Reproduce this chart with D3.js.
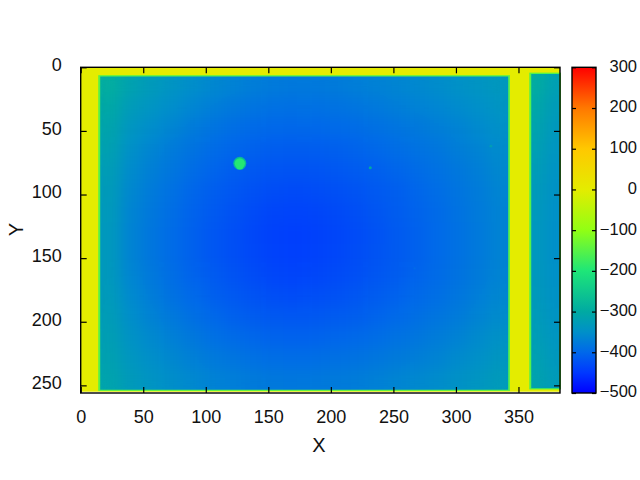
<!DOCTYPE html>
<html><head><meta charset="utf-8">
<script src="https://cdn.jsdelivr.net/npm/d3@7/dist/d3.min.js"></script>
<style>html,body{margin:0;padding:0;background:#fff}svg{display:block}text{font-family:"Liberation Sans",Arial,sans-serif;fill:#111}</style>
</head><body><svg id="c" width="640" height="480"></svg>
<script>
const xTicks=[0,50,100,150,200,250,300,350];
const yTicks=[0,50,100,150,200,250];
const cbTicks=[300,200,100,0,-100,-200,-300,-400,-500];
const paletteValues=[-500,-450,-400,-350,-300,-200,-100,0,100,200,300];
const paletteColors=["#0000ff","#0038ff","#0068ea","#0090c8","#00aaa2","#1ee678","#91ff14","#e4ec00","#ffc800","#ff7800","#ff0000"];
const background=0, rimValue=-150;
const mainExtent=[14,343.2,6.2,254.4];
const sideExtent=[358.6,384,4.2,253.2];
const imageBottom=255;
const mainField=[
[-295,-318,-331,-343,-353,-361,-368,-374,-378,-380,-379,-377,-373,-369,-365,-360,-355,-349,-343,-336],
[-305,-330,-343,-354,-364,-373,-380,-385,-389,-390,-389,-387,-384,-379,-374,-369,-364,-358,-351,-343],
[-313,-341,-354,-365,-376,-385,-392,-397,-400,-401,-400,-398,-395,-390,-385,-380,-374,-367,-359,-350],
[-320,-350,-364,-376,-386,-395,-402,-407,-411,-412,-411,-409,-405,-400,-394,-388,-382,-374,-366,-356],
[-326,-356,-371,-383,-394,-403,-411,-417,-421,-422,-421,-418,-414,-409,-403,-396,-389,-381,-372,-361],
[-330,-361,-376,-389,-401,-410,-418,-424,-429,-431,-429,-426,-422,-416,-410,-402,-394,-385,-376,-365],
[-333,-365,-380,-393,-405,-415,-423,-430,-436,-438,-436,-432,-427,-420,-413,-405,-397,-388,-378,-367],
[-335,-366,-382,-395,-407,-418,-426,-434,-441,-443,-441,-436,-430,-423,-415,-407,-398,-389,-379,-368],
[-335,-366,-382,-395,-407,-418,-426,-433,-440,-442,-440,-435,-429,-422,-415,-407,-398,-389,-379,-368],
[-334,-364,-379,-392,-404,-414,-422,-429,-435,-437,-435,-431,-426,-419,-412,-404,-396,-387,-377,-366],
[-331,-359,-374,-387,-398,-408,-416,-422,-427,-429,-427,-424,-419,-413,-406,-399,-391,-383,-373,-362],
[-327,-353,-367,-379,-390,-399,-407,-413,-417,-418,-417,-414,-410,-404,-398,-391,-384,-376,-366,-356],
[-323,-346,-359,-370,-380,-389,-396,-401,-405,-406,-405,-402,-399,-394,-388,-382,-375,-367,-358,-348],
[-319,-339,-351,-361,-370,-378,-384,-389,-393,-394,-393,-390,-387,-382,-377,-372,-366,-358,-350,-340],
[-314,-332,-343,-352,-360,-367,-373,-377,-380,-381,-380,-378,-375,-370,-365,-360,-355,-348,-341,-331]
];
const sideField=[
[-296,-322],[-305,-330],[-313,-336],[-320,-341],[-326,-345],[-330,-348],[-333,-350],[-335,-351],
[-335,-351],[-334,-350],[-332,-348],[-329,-345],[-325,-341],[-320,-337],[-315,-332]
];
const spots=[[127.2,75.5,5.2,-270],[127.2,75.5,4.1,-195],[127.2,77.5,2.8,-195],[231.5,78.9,1.2,-300],[328,62,1.1,-325],[267,158,0.9,-395]];

const W=[80.7,560],H=[67.3,393];
const x=d3.scaleLinear().domain([0,383.2]).range(W);
const y=d3.scaleLinear().domain([0,256]).range(H);
const color=d3.scaleLinear().domain(paletteValues).range(paletteColors).clamp(true);
const svg=d3.select("#c");
const defs=svg.append("defs");
const f=defs.append("filter").attr("id","soft").attr("x","-10%").attr("y","-10%").attr("width","120%").attr("height","120%").attr("color-interpolation-filters","sRGB");
f.append("feGaussianBlur").attr("stdDeviation",7);
f.append("feComponentTransfer").append("feFuncA").attr("type","linear").attr("slope",60);
defs.append("filter").attr("id","spot").attr("x","-100%").attr("y","-100%").attr("width","300%").attr("height","300%").attr("color-interpolation-filters","sRGB").append("feGaussianBlur").attr("stdDeviation",0.5);

svg.append("rect").attr("x",W[0]).attr("y",H[0]).attr("width",W[1]-W[0]).attr("height",y(imageBottom)-H[0]).attr("fill",color(background));

function panel(ext,field,id){
  const [x0,x1,y0,y1]=ext;
  svg.append("rect").attr("x",x(x0)).attr("y",y(y0)).attr("width",x(x1)-x(x0)).attr("height",y(y1)-y(y0)).attr("fill",color(rimValue));
  const ix0=x0+1.6, ix1=Math.min(x1-1.4,383.2), iy0=y0+1, iy1=y1-1;
  const cols=d3.scaleBand().domain(d3.range(field[0].length)).range([x(ix0),x(ix1)]);
  const rows=d3.scaleBand().domain(d3.range(field.length)).range([y(iy0),y(iy1)]);
  defs.append("clipPath").attr("id",id).append("rect").attr("x",x(ix0)).attr("y",y(iy0)).attr("width",x(ix1)-x(ix0)).attr("height",y(iy1)-y(iy0));
  const g=svg.append("g").attr("clip-path",`url(#${id})`).append("g").attr("filter","url(#soft)");
  field.forEach((row,r)=>row.forEach((v,c)=>{
    g.append("rect").attr("x",cols(c)).attr("y",rows(r)).attr("width",cols.bandwidth()+0.5).attr("height",rows.bandwidth()+0.5).attr("fill",color(v));
  }));
}
panel(mainExtent,mainField,"cm");
panel(sideExtent,sideField,"cs");

svg.append("g").selectAll("circle").data(spots).join("circle").attr("filter","url(#spot)")
  .attr("cx",d=>x(d[0])).attr("cy",d=>y(d[1])).attr("r",d=>x(d[2])-x(0)).attr("fill",d=>color(d[3]));

function style(g){g.selectAll("path,line").attr("stroke","#000").attr("stroke-width",1.2);g.selectAll("text").attr("font-size",18).attr("font-family",'"Liberation Sans",Arial,sans-serif').attr("fill","#111");}
svg.append("rect").attr("x",W[0]).attr("y",H[0]).attr("width",W[1]-W[0]).attr("height",H[1]-H[0]).attr("fill","none").attr("stroke","#000").attr("stroke-width",1.4);
svg.append("g").attr("transform",`translate(0,${H[1]})`).call(d3.axisBottom(x).tickValues(xTicks).tickSizeInner(-6).tickSizeOuter(0).tickPadding(17)).call(style).select(".domain").remove();
svg.append("g").attr("transform",`translate(0,${H[0]})`).call(d3.axisTop(x).tickValues(xTicks).tickSizeInner(-6).tickSizeOuter(0).tickFormat("")).call(style).select(".domain").remove();
const yAxis=svg.append("g").attr("transform",`translate(${W[0]},0)`).call(d3.axisLeft(y).tickValues(yTicks).tickSizeInner(-6).tickSizeOuter(0).tickPadding(19)).call(style);
yAxis.select(".domain").remove();
yAxis.selectAll("text").attr("dy","0.18em");
svg.append("g").attr("transform",`translate(${W[1]},0)`).call(d3.axisRight(y).tickValues(yTicks).tickSizeInner(-6).tickSizeOuter(0).tickFormat("")).call(style).select(".domain").remove();

// colour bar
const cbX=[572,596];
const cb=d3.scaleLinear().domain([-500,300]).range([H[1],H[0]]);
const grad=defs.append("linearGradient").attr("id","cbg").attr("x1",0).attr("x2",0).attr("y1",1).attr("y2",0);
paletteValues.forEach(v=>grad.append("stop").attr("offset",(v+500)/800).attr("stop-color",color(v)));
svg.append("rect").attr("x",cbX[0]).attr("y",H[0]).attr("width",cbX[1]-cbX[0]).attr("height",H[1]-H[0]).attr("fill","url(#cbg)").attr("stroke","#000").attr("stroke-width",1.4);
svg.append("g").attr("transform",`translate(${cbX[1]},0)`).call(d3.axisRight(cb).tickValues(cbTicks).tickSizeInner(-4).tickSizeOuter(0).tickPadding(0).tickFormat("")).call(style).select(".domain").remove();
const cbAxis=svg.append("g").attr("transform",`translate(${cbX[0]},0)`).call(d3.axisLeft(cb).tickValues(cbTicks).tickSizeInner(-4).tickSizeOuter(0).tickPadding(-65)).call(style);
cbAxis.select(".domain").remove();
cbAxis.selectAll("text").attr("font-size",16.5).attr("text-anchor","end").attr("dy","0.24em");

svg.append("text").attr("x",319).attr("y",452).attr("text-anchor","middle").attr("font-size",20).text("X");
svg.append("text").attr("transform","translate(23,229.5) rotate(-90)").attr("text-anchor","middle").attr("font-size",20).text("Y");
</script></body></html>
